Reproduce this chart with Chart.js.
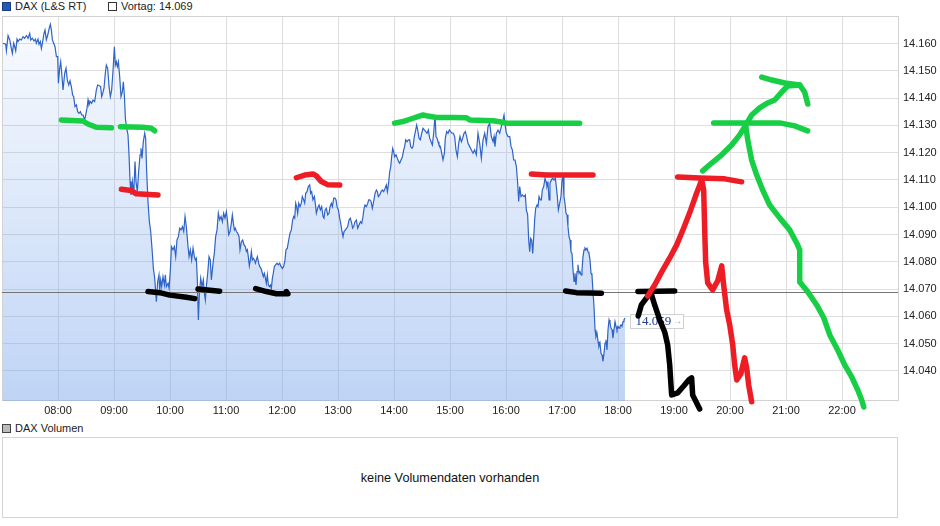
<!DOCTYPE html>
<html>
<head>
<meta charset="utf-8">
<script src="https://cdn.jsdelivr.net/npm/chart.js@4.4.1/dist/chart.umd.min.js"></script>
<style>
  body { margin: 0; width: 940px; height: 526px; position: relative; background: #fff;
         font-family: Arial, 'Liberation Sans', sans-serif; font-size: 11px; color: #222; overflow: hidden; }
  .lg { position: absolute; top: 0; height: 13px; line-height: 13px; white-space: nowrap; }
  .sq { display: inline-block; width: 7px; height: 7px; border: 1px solid #333; vertical-align: -1px; margin-right: 4px; }
  #wrap { position: absolute; left: 0; top: 0; width: 940px; height: 420px; }
  #volBox { position: absolute; left: 2px; top: 437px; width: 894px; height: 79px; border: 1px solid #d4d4d4;
            display: flex; align-items: center; justify-content: center; font-size: 12.7px; color: #111; }
</style>
</head>
<body>
<div class="lg" style="left:2px;"><span class="sq" style="background:#2458b8;border-color:#183c80"></span>DAX (L&amp;S RT)</div>
<div class="lg" style="left:108px;"><span class="sq" style="background:#fff"></span>Vortag: 14.069</div>
<div id="wrap"><canvas id="priceChart"></canvas></div>
<div class="lg" style="left:2px; top:422px;"><span class="sq" style="background:#bbb;border-color:#444"></span>DAX Volumen</div>
<div id="volBox">keine Volumendaten vorhanden</div>
<script>
// Zeit in Minuten seit Mitternacht, Kurs in Punkten
const priceTimes = [
  421.1,424.0,424.7,426.5,428.3,430.0,431.1,432.5,433.6,434.7,436.1,437.2,439.0,440.8,442.5,444.3,446.1,447.9,449.7,450.8,
  452.5,454.3,455.8,456.8,458.6,459.7,461.1,462.2,463.3,465.0,466.1,467.5,469.0,470.4,471.8,472.9,474.0,475.4,476.8,478.3,
  479.7,480.4,481.8,482.9,484.0,485.4,487.2,488.6,490.0,491.5,492.9,494.3,495.7,496.8,498.2,499.7,501.1,502.5,504.0,505.4,
  506.8,508.6,509.7,511.1,512.2,513.2,514.7,516.1,517.5,519.3,521.1,522.5,523.9,525.7,526.8,527.9,529.3,530.7,531.8,533.2,
  534.7,536.1,537.5,539.0,540.4,541.5,542.5,543.6,544.7,546.1,547.5,549.0,550.0,551.1,552.2,553.6,555.0,556.1,557.2,558.2,
  559.7,561.1,562.5,563.6,565.0,566.4,567.9,568.9,570.0,571.4,572.9,573.9,575.0,576.4,577.9,579.3,580.7,582.2,583.6,585.4,
  586.8,588.2,589.0,590.0,591.1,592.5,594.0,595.0,596.1,597.9,599.0,600.4,601.5,603.2,604.7,606.1,607.5,609.0,610.4,611.8,
  613.3,614.7,616.1,617.5,619.0,620.4,621.8,623.2,624.7,626.1,627.2,628.2,629.3,630.4,631.5,632.9,634.3,635.7,636.8,637.9,
  638.9,640.4,641.8,643.2,644.3,645.4,646.5,647.5,648.9,650.4,651.8,653.2,654.7,656.1,657.5,658.9,660.4,661.5,662.9,664.3,
  665.7,666.8,667.9,669.0,670.0,671.1,672.5,674.0,675.0,676.5,677.9,679.3,680.7,681.8,682.9,683.9,685.0,686.1,687.2,688.2,
  689.3,690.4,691.5,692.5,693.6,695.0,696.1,697.5,699.0,700.0,701.1,702.2,703.2,704.3,705.4,706.5,707.5,708.6,709.7,710.7,
  711.8,713.2,714.7,716.1,717.5,718.9,720.4,721.8,723.2,724.3,725.7,727.2,728.6,730.0,731.4,732.5,733.6,734.7,735.7,736.8,
  737.9,739.3,740.7,741.8,743.2,744.3,745.4,746.8,748.2,749.7,750.7,751.8,753.2,754.7,756.1,756.8,758.2,759.7,761.1,762.5,
  764.0,765.0,766.1,767.5,769.0,770.4,771.5,772.9,774.0,775.4,776.8,777.9,779.0,780.4,781.8,782.9,784.0,785.4,786.5,787.9,
  789.3,790.4,791.8,793.2,794.7,795.7,796.8,798.2,799.7,801.1,802.5,804.0,805.4,806.8,807.9,809.0,810.4,811.8,812.9,814.0,
  815.4,816.8,818.2,819.7,821.1,822.2,823.2,824.7,826.1,827.5,829.0,830.4,831.8,832.9,834.0,835.4,836.5,837.5,838.6,839.7,
  840.7,842.2,843.6,845.0,846.1,847.5,849.0,850.4,851.4,852.5,854.0,855.4,856.8,857.9,859.3,860.4,861.8,862.9,864.3,865.4,
  866.8,868.2,869.7,871.1,872.5,874.0,875.4,876.8,878.2,879.7,881.1,882.5,884.0,885.0,886.1,887.2,888.2,889.7,891.1,892.5,
  894.0,895.0,896.4,897.9,899.3,900.7,902.2,903.6,905.0,906.4,907.9,909.3,910.7,912.2,913.6,915.0,916.4,917.9,919.3,921.1,
  922.9,924.7,926.4,928.2,930.0,931.8,933.6,935.4,937.2,939.0,940.7,942.5,944.3,946.1,947.2,948.2,949.7,951.4,953.2,955.0,
  956.8,957.9,959.3,960.4,962.2,964.0,965.4,966.8,968.2,969.7,971.1,972.5,973.6,974.7,976.1,977.5,979.3,980.7,981.8,983.2,
  984.3,985.4,986.4,987.5,988.6,989.7,990.7,991.8,993.2,994.3,995.4,996.8,997.9,998.9,1000.4,1001.8,1002.9,1003.9,1005.0,1006.1,
  1007.1,1008.6,1010.0,1011.4,1012.9,1013.9,1015.0,1016.1,1017.5,1018.9,1020.0,1021.1,1022.1,1023.2,1024.3,1025.4,1026.4,1027.5,1028.6,1029.6,
  1030.7,1031.8,1032.9,1033.9,1035.0,1036.1,1037.1,1038.2,1039.3,1040.4,1041.4,1042.5,1043.6,1044.6,1045.7,1046.8,1047.9,1048.9,1050.0,1051.1,
  1052.1,1053.2,1054.3,1055.4,1056.4,1057.5,1058.6,1059.6,1060.7,1061.8,1062.9,1063.9,1065.0,1066.1,1067.1,1068.2,1069.3,1070.4,1071.4,1072.5,
  1073.6,1074.6,1075.7,1076.8,1077.9,1078.9,1080.0,1081.1,1082.1,1083.2,1084.3,1085.4,1086.4,1087.5
];
const prices = [
  14160.1,14159.7,14157.3,14162.9,14161.3,14158.2,14156.4,14160.1,14158.8,14157.3,14161.6,14160.7,14161.6,14161.3,14162.5,14161.9,14162.9,14161.9,14163.7,14161.3,
  14161.9,14160.9,14161.6,14160.1,14161.6,14159.7,14160.7,14158.2,14160.1,14163.7,14164.9,14161.3,14163.1,14165.3,14167.0,14164.9,14161.3,14160.1,14158.8,14155.2,
  14155.2,14145.4,14150.9,14153.3,14149.1,14143.0,14149.1,14150.9,14146.6,14144.8,14146.3,14144.2,14141.1,14140.5,14136.9,14137.5,14135.0,14134.4,14135.0,14133.8,
  14133.8,14132.0,14133.8,14136.3,14139.3,14137.5,14138.7,14138.1,14139.3,14138.7,14143.0,14144.8,14144.6,14144.2,14140.5,14141.7,14143.6,14149.1,14152.1,14150.9,
  14144.2,14140.5,14143.0,14150.3,14158.8,14152.1,14153.3,14151.5,14153.3,14147.8,14140.5,14142.4,14146.0,14141.1,14132.6,14128.9,14126.5,14119.2,14109.4,14104.5,
  14109.4,14104.5,14116.7,14109.4,14105.7,14113.0,14119.2,14121.6,14117.9,14124.0,14127.1,14125.3,14113.0,14102.1,14094.7,14091.1,14085.0,14077.6,14074.0,14065.4,
  14072.8,14075.2,14069.7,14073.4,14070.9,14074.6,14071.5,14075.2,14070.9,14072.1,14070.3,14077.0,14085.6,14084.4,14085.6,14081.9,14088.0,14089.2,14092.3,14091.7,
  14092.9,14091.1,14096.6,14092.9,14086.8,14081.9,14084.4,14080.7,14085.0,14081.9,14080.7,14081.3,14073.4,14058.7,14068.5,14074.0,14070.9,14073.4,14068.5,14066.0,
  14070.9,14075.8,14081.9,14080.7,14073.4,14077.0,14080.7,14083.1,14089.2,14091.7,14097.8,14095.4,14096.6,14094.7,14097.8,14096.0,14098.4,14095.4,14089.9,14091.1,
  14094.1,14097.2,14094.1,14091.7,14092.3,14091.1,14090.5,14089.2,14084.4,14087.4,14088.0,14086.2,14085.6,14083.8,14084.4,14081.9,14078.5,14080.7,14083.8,14080.7,
  14081.3,14080.7,14079.5,14080.7,14081.9,14079.5,14078.3,14077.6,14075.8,14074.6,14075.8,14074.0,14072.1,14075.2,14071.5,14070.9,14071.5,14070.3,14074.0,14075.8,
  14078.3,14078.9,14079.5,14078.9,14079.5,14078.3,14077.6,14078.3,14080.7,14084.4,14085.0,14088.0,14090.5,14091.7,14095.4,14096.6,14096.0,14101.5,14100.2,14097.8,
  14101.5,14100.2,14101.5,14103.9,14102.7,14101.5,14105.1,14105.7,14107.6,14108.2,14105.1,14105.7,14102.7,14103.9,14100.2,14097.8,14099.6,14100.8,14099.0,14100.2,
  14096.6,14096.0,14099.0,14099.6,14097.2,14097.8,14100.2,14101.4,14100.2,14103.3,14103.3,14102.7,14100.2,14099.0,14096.0,14094.1,14091.7,14089.2,14091.1,14091.7,
  14092.3,14092.9,14095.3,14096.0,14094.1,14092.3,14092.9,14094.7,14095.3,14092.3,14093.5,14094.7,14094.1,14096.6,14099.6,14100.8,14100.2,14101.4,14102.7,14102.7,
  14102.1,14099.6,14102.1,14105.1,14106.3,14105.7,14103.9,14104.5,14105.7,14106.3,14105.7,14106.9,14108.2,14105.7,14108.2,14113.0,14114.9,14118.5,14121.6,14120.4,
  14118.5,14119.2,14117.9,14116.7,14116.1,14117.3,14118.5,14121.0,14122.2,14124.7,14124.0,14124.7,14124.7,14122.2,14121.6,14122.2,14125.9,14127.7,14130.1,14128.3,
  14125.3,14124.7,14127.1,14128.9,14128.3,14127.7,14127.1,14128.3,14125.3,14124.0,14122.8,14127.1,14133.8,14125.9,14125.3,14124.0,14122.8,14122.2,14119.8,14117.3,
  14119.8,14125.3,14127.7,14127.1,14128.3,14127.7,14127.1,14127.1,14125.9,14121.0,14118.5,14123.4,14125.9,14124.0,14125.3,14127.1,14127.7,14125.9,14123.4,14122.2,
  14121.0,14119.8,14121.0,14119.2,14127.1,14123.4,14117.9,14124.7,14127.1,14123.4,14129.5,14130.8,14125.9,14124.0,14125.9,14122.2,14127.1,14128.3,14127.1,14129.5,
  14132.0,14133.8,14129.5,14127.1,14125.9,14125.9,14122.2,14121.0,14117.3,14117.3,14114.9,14108.8,14102.1,14107.6,14103.9,14104.5,14103.9,14104.5,14099.0,14097.2,
  14088.0,14083.7,14088.6,14088.0,14083.1,14089.2,14095.3,14099.6,14100.8,14100.2,14103.9,14102.7,14102.7,14106.3,14107.6,14110.6,14109.4,14107.6,14108.8,14102.7,
  14108.8,14110.0,14110.6,14110.0,14110.6,14107.6,14103.9,14099.0,14101.4,14103.9,14110.0,14111.2,14103.9,14101.4,14097.8,14097.2,14092.9,14089.2,14088.0,14083.7,
  14083.1,14077.0,14072.8,14075.8,14071.5,14076.4,14078.9,14075.8,14076.4,14075.2,14077.0,14081.9,14084.4,14085.0,14084.4,14085.0,14083.7,14083.1,14080.7,14075.8,
  14075.2,14069.1,14063.6,14055.1,14052.6,14053.8,14050.8,14049.0,14050.2,14046.5,14045.9,14043.5,14046.5,14050.2,14051.4,14047.7,14055.1,14058.7,14057.5,14055.7,
  14055.1,14052.0,14055.1,14058.1,14056.3,14055.1,14056.3,14055.7,14056.3,14056.9,14056.3,14058.1,14058.7,14059.4
];
const prevClose = 14069;

// Achsen
const xTickLabels = ['08:00','09:00','10:00','11:00','12:00','13:00','14:00','15:00','16:00','17:00','18:00','19:00','20:00','21:00','22:00'];
const yTicks = [14040,14050,14060,14070,14080,14090,14100,14110,14120,14130,14140,14150,14160];

// Handgezeichnete Markierungen [Zeit, Kurs]
const greenMarks = [
  [[483.6,14132.0],[506.8,14131.6],[512.1,14130.5],[521.1,14129.3],[537.2,14129.1]],
  [[546.9,14129.5],[571.1,14129.3],[580.1,14128.9],[583.6,14128.0]],
  [[840.7,14130.8],[849.6,14131.4],[860.3,14132.6],[865.7,14133.2],[871.1,14133.8],[876.4,14133.4],[885.4,14132.9],
   [903.2,14132.9],[917.6,14132.8],[921.1,14132.0],[946.1,14131.7],[953.2,14131.3],[960.4,14130.8],[1038.9,14130.8]],
  [[1182.5,14130.9],[1253.2,14130.9],[1269.3,14129.8],[1283.2,14128.0]],
  [[1170.7,14113.3],[1180.4,14116.2],[1191.1,14119.2],[1201.8,14122.8],[1210.4,14126.5],[1216.8,14130.1],[1223.2,14133.8],
   [1231.8,14136.4],[1240.4,14138.2],[1247.9,14139.3],[1255.4,14142.2],[1261.8,14144.4],[1274.7,14144.8],[1280.0,14142.2],[1283.3,14137.8]],
  [[1234.0,14147.7],[1244.8,14146.6],[1258.7,14145.5],[1274.7,14144.8]],
  [[1216.8,14130.1],[1219.0,14124.6],[1223.2,14117.3],[1228.6,14111.8],[1235.0,14106.3],[1242.5,14100.8],[1253.2,14096.1],
   [1263.9,14091.7],[1271.4,14086.9],[1274.7,14084.4],[1274.7,14072.6],[1283.3,14069.0],[1292.9,14064.2],[1300.4,14059.5],
   [1306.9,14053.2],[1315.4,14047.7],[1322.9,14042.2],[1330.4,14037.8],[1336.8,14033.1],[1341.1,14029.4],[1343.3,14026.8]]
];
const redMarks = [
  [[547.9,14106.6],[558.6,14106.1],[564.0,14104.9],[587.1,14104.5]],
  [[735.4,14110.8],[744.3,14111.8],[753.2,14112.2],[756.8,14111.5],[762.2,14109.4],[769.3,14108.2],[781.8,14108.1]],
  [[987.2,14112.2],[1003.3,14111.8],[1053.2,14111.8]],
  [[1143.9,14111.1],[1167.5,14110.7],[1194.3,14110.4],[1212.5,14109.3]],
  [[1111.8,14067.5],[1119.3,14071.5],[1126.8,14076.3],[1135.4,14081.4],[1142.9,14086.2],[1150.4,14092.4],[1157.9,14099.0],
   [1164.3,14105.2],[1169.7,14110.0],[1171.8,14106.3],[1172.9,14091.7],[1173.9,14079.9],[1176.1,14072.3],[1181.4,14069.7],
   [1186.8,14073.0],[1191.1,14078.5],[1193.2,14071.5],[1196.4,14062.4],[1199.7,14056.9],[1202.9,14049.6],[1205.0,14042.2],
   [1207.2,14036.7],[1211.5,14038.9],[1215.7,14044.8],[1217.9,14041.1],[1220.0,14034.9],[1223.2,14028.7]]
];
const blackMarks = [
  [[576.4,14069.1],[589.0,14068.7],[599.7,14067.8],[617.6,14067.0],[626.5,14066.5]],
  [[630.0,14070.0],[653.2,14069.2]],
  [[691.8,14070.2],[703.3,14069.1],[714.0,14068.3],[726.4,14068.3],[724.7,14069.1]],
  [[1023.9,14069.3],[1035.4,14068.7],[1062.2,14068.5]],
  [[1101.4,14069.1],[1140.7,14069.3]],
  [[1115.0,14069.0],[1110.4,14066.7],[1105.0,14064.2],[1101.7,14060.2]],
  [[1115.0,14069.0],[1119.3,14064.2],[1124.7,14058.7],[1130.0,14054.3],[1133.2,14049.6],[1135.4,14042.2],[1136.4,14036.7],
   [1137.5,14031.2],[1143.9,14032.0],[1150.4,14034.5],[1155.7,14036.7],[1158.9,14037.5],[1160.0,14031.2],[1164.3,14028.3],[1167.5,14026.1]]
];

function fmtDe(v) {
  const n = Math.floor(v);
  return Math.floor(n / 1000) + '.' + String(n % 1000).padStart(3, '0');
}
const toMin = (s) => parseInt(s.slice(0, 2), 10) * 60 + parseInt(s.slice(3), 10);

Chart.defaults.font.family = "Arial, 'Liberation Sans', sans-serif";
Chart.defaults.font.size = 11;
Chart.defaults.color = '#222';

const markSets = [];
function addMarks(list, color) {
  list.forEach(stroke => markSets.push({
    data: stroke.map(([t, v]) => ({ x: t, y: v })),
    borderColor: color,
    borderWidth: 5.5,
    borderCapStyle: 'round',
    borderJoinStyle: 'round',
    pointRadius: 0,
    tension: 0,
    clip: false,
    order: 0
  }));
}
addMarks(greenMarks, '#16cf45');
addMarks(redMarks, '#ee1d25');
addMarks(blackMarks, '#000000');

const last = prices.length - 1;
const PRICE_INDEX = markSets.length;

const frame = {
  id: 'frame',
  beforeDatasetsDraw(chart) {
    const { ctx, chartArea: a, scales: { x, y } } = chart;
    ctx.save();
    ctx.strokeStyle = '#d2d2d2';
    ctx.lineWidth = 1;
    ctx.strokeRect(Math.round(a.left) + 0.5, Math.round(a.top) - 0.5, Math.round(a.width), Math.round(a.height));
    // Kursfähnchen
    const bx = Math.round(x.getPixelForValue(priceTimes[last])) + 5.5;
    const by = Math.round(y.getPixelForValue(prices[last])) - 3.5;
    ctx.fillStyle = '#fff';
    ctx.fillRect(bx, by, 53, 14);
    ctx.strokeStyle = '#d0d0d0';
    ctx.strokeRect(bx, by, 53, 14);
    ctx.font = "13px 'Liberation Serif', 'Times New Roman', serif";
    ctx.textBaseline = 'middle';
    ctx.textAlign = 'left';
    ctx.fillStyle = '#1f3f99';
    ctx.fillText(fmtDe(prices[last]), bx + 5, by + 7.5);
    ctx.fillStyle = '#aaa';
    ctx.font = "bold 10px Arial, 'Liberation Sans', sans-serif";
    ctx.fillText('\u2192', bx + 42, by + 7);
    ctx.restore();
  },
  // Vortageslinie direkt nach der Kurslinie, pixelgenau
  afterDatasetDraw(chart, args) {
    if (args.index !== PRICE_INDEX) return;
    const { ctx, chartArea: a, scales: { y } } = chart;
    const py = Math.round(y.getPixelForValue(prevClose)) + 0.5;
    ctx.save();
    ctx.strokeStyle = '#747474';
    ctx.lineWidth = 1;
    ctx.beginPath();
    ctx.moveTo(a.left, py);
    ctx.lineTo(a.right, py);
    ctx.stroke();
    ctx.restore();
  }
};

const ctx = document.getElementById('priceChart').getContext('2d');
const priceChart = new Chart(ctx, {
  type: 'line',
  data: {
    datasets: [
      ...markSets,
      {
        data: priceTimes.map((t, i) => ({ x: t, y: prices[i] })),
        borderColor: '#2f63c6',
        borderWidth: 1.2,
        pointRadius: 0,
        tension: 0,
        fill: 'start',
        backgroundColor: (c) => {
          const area = c.chart.chartArea;
          if (!area) return 'rgba(120,165,235,0.25)';
          const g = c.chart.ctx.createLinearGradient(0, area.top, 0, area.bottom);
          g.addColorStop(0, 'rgba(120,165,235,0.04)');
          g.addColorStop(1, 'rgba(120,165,235,0.48)');
          return g;
        },
        order: 2
      }
    ]
  },
  options: {
    responsive: true,
    maintainAspectRatio: false,
    animation: false,
    layout: { padding: { left: 2, top: 17, right: 0, bottom: 0 } },
    plugins: {
      legend: { display: false },
      tooltip: { enabled: false }
    },
    scales: {
      x: {
        type: 'linear',
        min: 420,
        max: 1380,
        afterBuildTicks: (s) => { s.ticks = xTickLabels.map(l => ({ value: toMin(l) })); },
        afterFit: (s) => { s.height = 19; },
        ticks: {
          autoSkip: false,
          maxRotation: 0,
          padding: 3,
          callback: (v, i) => xTickLabels[i]
        },
        grid: { color: '#dedede', drawTicks: false },
        border: { display: false }
      },
      y: {
        position: 'right',
        min: 14029,
        max: 14169.7,
        afterBuildTicks: (s) => { s.ticks = yTicks.map(v => ({ value: v })); },
        afterFit: (s) => { s.width = 42; },
        ticks: {
          padding: 5,
          callback: (v) => fmtDe(v)
        },
        grid: { color: '#dedede', drawTicks: false },
        border: { display: false }
      }
    }
  },
  plugins: [frame]
});
</script>
</body>
</html>
